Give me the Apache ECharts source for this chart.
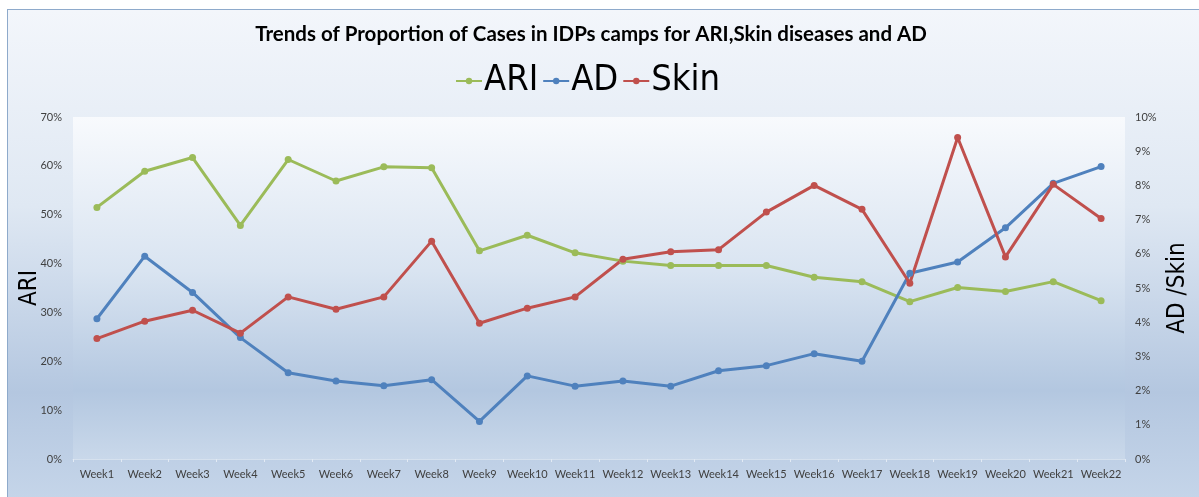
<!DOCTYPE html>
<html>
<head>
<meta charset="utf-8">
<title>Trends of Proportion of Cases in IDPs camps</title>
<script src="https://cdn.jsdelivr.net/npm/echarts@6/dist/echarts.min.js"></script>
<style>
    html, body { margin: 0; padding: 0; background: #ffffff; }
    #frame {
        position: absolute; left: 7px; top: 9px; width: 1200px; height: 490px;
        border-left: 1px solid #8eaacb; border-top: 1px solid #8eaacb;
        background: linear-gradient(to bottom, #f3f6fb 0%, #dfe8f3 40%, #b4c7e0 78%, #c5d5e9 100%);
    }
    #container { position: absolute; left: 0; top: 0; width: 1199px; height: 497px; }
</style>
</head>
<body>
<div id="frame"></div>
<div id="container"></div>
<script>
// data (percent)
const weeks = ['Week1', 'Week2', 'Week3', 'Week4', 'Week5', 'Week6', 'Week7', 'Week8', 'Week9', 'Week10', 'Week11',
    'Week12', 'Week13', 'Week14', 'Week15', 'Week16', 'Week17', 'Week18', 'Week19', 'Week20', 'Week21', 'Week22'];
const ari = [51.5, 58.9, 61.7, 47.8, 61.3, 56.9, 59.8, 59.6, 42.6, 45.8, 42.2,
    40.5, 39.6, 39.6, 39.6, 37.2, 36.3, 32.2, 35.1, 34.3, 36.3, 32.4];
const ad = [4.10, 5.93, 4.87, 3.55, 2.52, 2.28, 2.14, 2.32, 1.10, 2.43, 2.13,
    2.28, 2.13, 2.58, 2.73, 3.08, 2.86, 5.43, 5.76, 6.76, 8.06, 8.55];
const skin = [3.52, 4.03, 4.35, 3.68, 4.74, 4.38, 4.74, 6.37, 3.97, 4.41, 4.74,
    5.84, 6.06, 6.12, 7.22, 8.00, 7.30, 5.14, 9.40, 5.91, 8.03, 7.03];

const labelFont = 'Lato, "DejaVu Sans", sans-serif';
const narrowFont = '"Liberation Sans Narrow", "DejaVu Sans Condensed", "Open Sans", sans-serif';

var dom = document.getElementById('container');
var myChart = echarts.init(dom, null, { renderer: 'canvas' });

function lineSeries(name, data, color, axis) {
    return {
        name: name,
        type: 'line',
        yAxisIndex: axis,
        data: data,
        symbol: 'circle',
        symbolSize: 7,
        lineStyle: { color: color, width: 3 },
        itemStyle: { color: color }
    };
}

var option = {
    backgroundColor: 'transparent',
    animation: false,
    title: {
        text: 'Trends of Proportion of Cases in IDPs camps for ARI,Skin diseases and AD',
        left: 586,
        textAlign: 'center',
        top: 19,
        textStyle: { fontFamily: labelFont, fontSize: 20.5, fontWeight: 'bold', color: '#000000' }
    },
    legend: {
        data: ['ARI', 'AD', 'Skin'],
        left: 450,
        top: 58,
        itemWidth: 26,
        itemHeight: 8,
        itemGap: 4,
        textStyle: { fontFamily: narrowFont, fontSize: 36, color: '#000000', padding: [0, 0, 0, -3] }
    },
    grid: {
        left: 73,
        right: 74,
        top: 117,
        bottom: 38,
        show: true,
        borderWidth: 0,
        backgroundColor: new echarts.graphic.LinearGradient(0, 0, 0, 1, [
            { offset: 0, color: '#f8fafd' },
            { offset: 0.45, color: '#d9e4f1' },
            { offset: 0.8, color: '#b3c7e0' },
            { offset: 1, color: '#c9d8ea' }
        ])
    },
    xAxis: {
        type: 'category',
        data: weeks,
        axisLine: { lineStyle: { color: '#d6e1ee', width: 1 } },
        axisTick: { show: true, length: 3, lineStyle: { color: '#e2eaf4' } },
        axisLabel: { interval: 0, fontFamily: labelFont, fontSize: 11, color: '#404040', margin: 10 }
    },
    yAxis: [
        {
            type: 'value',
            min: 0,
            max: 70,
            interval: 10,
            name: 'ARI',
            nameLocation: 'middle',
            nameRotate: 90,
            nameGap: 31,
            nameMoveOverlap: false,
            nameTextStyle: { fontFamily: narrowFont, fontSize: 24, color: '#000000' },
            splitLine: { show: false },
            axisLine: { show: false },
            axisTick: { show: false },
            axisLabel: { formatter: '{value}%', fontFamily: labelFont, fontSize: 11, color: '#404040', margin: 11 }
        },
        {
            type: 'value',
            min: 0,
            max: 10,
            interval: 1,
            name: 'AD /Skin',
            nameLocation: 'middle',
            nameRotate: 90,
            nameGap: 41,
            nameMoveOverlap: false,
            nameTextStyle: { fontFamily: narrowFont, fontSize: 24, color: '#000000' },
            splitLine: { show: false },
            axisLine: { show: false },
            axisTick: { show: false },
            axisLabel: { formatter: '{value}%', fontFamily: labelFont, fontSize: 11, color: '#404040', margin: 10 }
        }
    ],
    series: [
        lineSeries('ARI', ari, '#9bbb59', 0),
        lineSeries('AD', ad, '#4f81bd', 1),
        lineSeries('Skin', skin, '#c0504d', 1)
    ]
};

if (option && typeof option === 'object') {
    myChart.setOption(option);
}
window.addEventListener('resize', myChart.resize);
</script>
</body>
</html>
